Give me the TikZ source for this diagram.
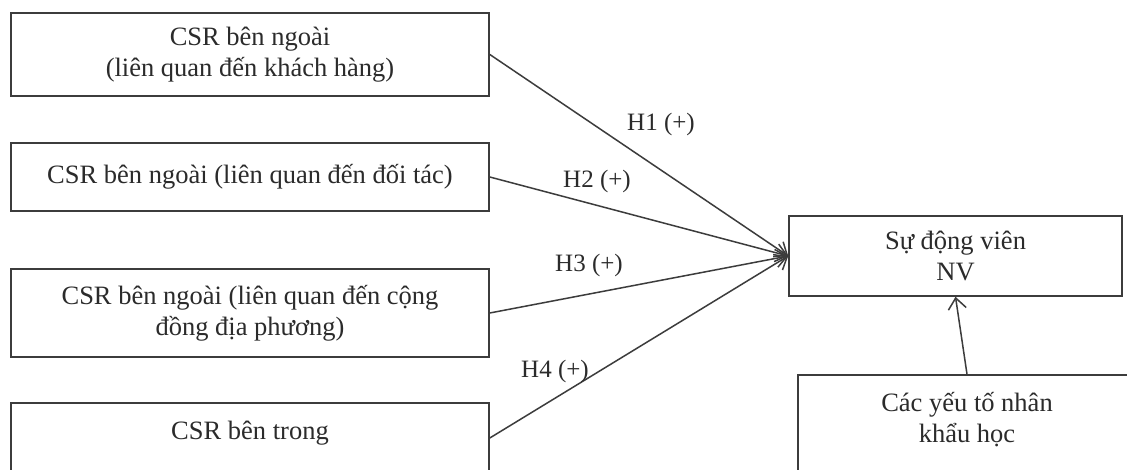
\documentclass[tikz,border=0pt]{standalone}
\usepackage{fontspec}
\setmainfont{Liberation Serif}
\usetikzlibrary{arrows.meta}
\definecolor{ink}{HTML}{2B2B2B}
\definecolor{edgecol}{HTML}{3C3C3C}
\begin{document}
\begin{tikzpicture}[x=1pt,y=-1pt,
  box/.style={draw=edgecol, line width=1.6pt, rectangle, inner sep=0pt, align=center, text=ink, font=\fontsize{26.5}{31}\selectfont},
  txt/.style={inner sep=0pt, align=center, text=ink, font=\fontsize{26.5}{31}\selectfont},
  lbl/.style={text=ink, font=\fontsize{25}{30}\selectfont, inner sep=0pt},
  conn/.style={draw=edgecol, line width=1.5pt, -{Straight Barb[length=11pt,width=18pt,line width=1.5pt]}},
]
\useasboundingbox[fill=white] (0,0) rectangle (1127,470);
\clip (0,0) rectangle (1127,470);
\node[box, minimum width=478pt, minimum height=83pt] (b1) at (250,54.5) {CSR bên ngoài\\(liên quan đến khách hàng)};
\node[box, minimum width=478pt, minimum height=68pt] (b2) at (250,177) {CSR bên ngoài (liên quan đến đối tác)};
\node[box, minimum width=478pt, minimum height=88pt] (b3) at (250,313) {CSR bên ngoài (liên quan đến cộng\\đồng địa phương)};
\node[box, minimum width=478pt, minimum height=70pt] (b4) at (250,438) {};
\node[txt] (t4) at (250,433) {CSR bên trong};
\node[box, minimum width=333pt, minimum height=80pt] (nv) at (955.5,256) {Sự động viên\\NV};
\node[box, minimum width=338pt, minimum height=110pt] (demo) at (967,430) {};
\node[txt] (t5) at (967,420) {Các yếu tố nhân\\khẩu học};
\draw[conn] (b1.east) -- (nv.west);
\draw[conn] (b2.east) -- (nv.west);
\draw[conn] (b3.east) -- (nv.west);
\draw[conn] (b4.east) -- (nv.west);
\draw[conn] (demo.north) -- (nv.south);
\node[lbl] (h1) at (661,124) {H1 (+)};
\node[lbl] (h2) at (597,181) {H2 (+)};
\node[lbl] (h3) at (589,265) {H3 (+)};
\node[lbl] (h4) at (555,371) {H4 (+)};
\end{tikzpicture}
\end{document}
